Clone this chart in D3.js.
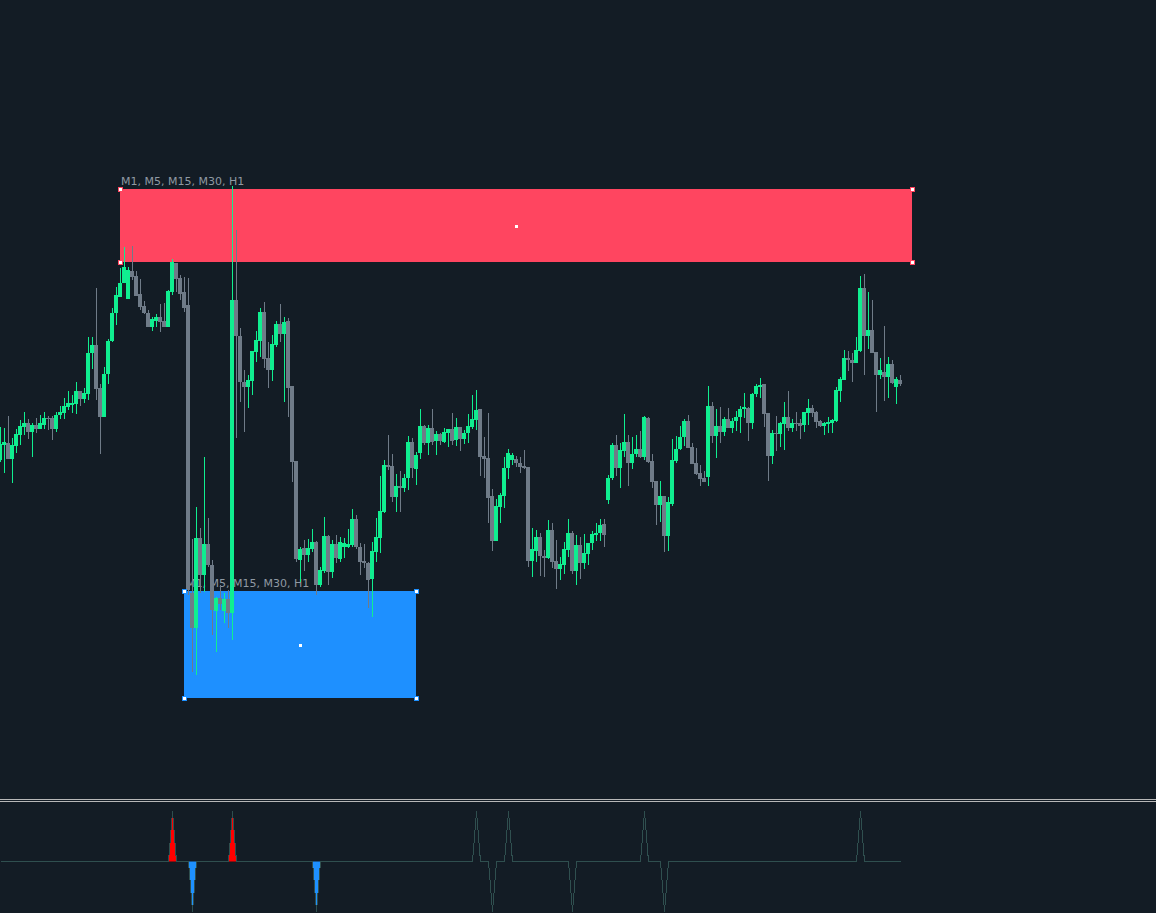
<!DOCTYPE html>
<html><head><meta charset="utf-8">
<script src="https://cdn.jsdelivr.net/npm/d3@7/dist/d3.min.js"></script>
<style>html,body{margin:0;padding:0;background:#131c25;overflow:hidden}</style>
</head><body><svg id="c" width="1156" height="913"></svg>
<script>
const opens = [540,555,557,541,554,565,573,577,568,575,
571,575,582,582,571,585,587,593,595,596,
609,601,606,647,655,612,583,626,659,687,
703,717,701,729,724,706,694,687,673,679,
683,679,673,708,737,722,708,695,407,372,
462,425,456,435,389,402,389,401,387,700,
664,618,613,619,648,659,688,642,630,655,
676,666,679,614,539,440,452,445,451,458,
415,429,464,428,456,441,453,453,455,481,
453,439,437,421,448,462,488,535,534,503,
514,512,522,558,531,547,574,557,572,559,
566,558,567,571,560,573,561,567,573,580,
591,544,542,504,459,493,504,532,540,541,
537,534,533,439,449,463,444,442,470,439,
431,435,450,467,429,455,437,446,457,465,
467,476,500,522,555,532,549,558,537,546,
551,543,582,539,519,495,504,464,496,539,
551,563,579,553,537,527,522,523,594,564,
574,568,581,572,579,583,591,592,577,606,
613,616,587,544,567,566,576,583,572,577,
577,575,587,592,588,579,574,576,577,579,
609,620,642,640,637,649,712,664,670,648,
625,628,623,636,613,620];
const highs = [573,572,584,562,571,580,588,581,577,582,
585,588,584,584,588,594,602,609,605,618,
609,612,663,663,712,616,633,661,692,713,
732,753,733,754,729,721,699,690,683,686,
696,697,710,741,737,725,723,722,461,493,
472,543,482,440,403,415,407,410,814,770,
672,630,625,649,669,692,698,658,665,679,
696,683,682,614,539,453,460,461,471,459,
433,483,465,460,465,463,462,471,491,485,
457,456,438,458,482,524,540,565,546,526,
529,526,564,562,548,591,575,575,591,569,
567,572,571,587,582,573,570,586,605,610,
591,563,587,511,501,507,543,551,547,544,
543,550,533,472,470,467,450,480,477,460,
443,458,481,469,465,463,466,457,469,477,
481,481,525,557,565,557,586,565,563,565,
569,584,583,546,519,519,504,503,561,564,
574,581,585,557,552,535,529,614,598,591,
593,583,592,582,589,594,607,593,607,616,
622,616,587,570,584,578,598,609,581,588,
581,588,601,595,589,580,578,583,581,613,
623,650,649,647,663,724,726,708,700,648,
642,674,643,640,623,625];
const lows = [538,527,541,517,547,555,565,561,543,567,
571,571,570,560,568,581,581,590,587,586,
594,597,600,631,600,546,583,616,658,675,
703,717,701,720,704,690,686,673,669,673,
668,673,673,705,708,700,688,405,328,325,
407,408,433,365,348,390,377,372,360,562,
598,568,592,605,638,643,632,612,619,653,
658,598,583,518,438,418,429,438,448,405,
413,427,415,422,437,438,442,452,453,451,
425,432,392,383,438,447,487,530,498,488,
488,508,510,522,515,541,555,545,555,545,
555,557,553,555,554,549,556,557,571,570,
524,522,477,449,459,477,492,521,535,533,
527,531,433,423,438,424,423,441,432,411,
420,426,443,426,415,421,431,435,450,459,
459,453,496,520,524,512,543,514,531,543,
542,540,537,512,475,478,448,449,494,537,
550,554,552,536,525,514,518,514,557,542,
557,564,572,567,569,567,582,559,571,603,
602,573,519,536,549,553,550,569,568,569,
561,568,575,583,572,573,565,567,567,578,
598,620,629,618,637,648,625,651,647,588,
621,599,602,616,596,614];
const closes = [556,558,541,555,566,574,577,568,575,571,
577,582,581,571,585,588,594,597,597,609,
601,607,647,655,611,583,626,659,687,705,
717,733,730,723,704,693,687,673,681,683,
678,673,709,738,721,706,692,410,372,462,
425,456,435,390,402,396,401,387,700,664,
618,613,620,649,660,688,641,630,656,676,
666,678,612,538,441,451,445,452,458,415,
430,464,428,456,442,458,457,456,481,453,
438,437,420,449,463,489,535,533,503,514,
512,522,558,532,545,574,557,572,558,566,
559,568,571,559,573,561,567,574,581,590,
543,541,502,459,494,505,532,547,545,537,
533,532,439,451,463,444,442,470,438,431,
436,451,467,429,455,437,447,457,466,467,
475,465,522,555,532,550,558,537,546,551,
543,583,538,518,495,504,464,498,540,551,
563,579,552,536,526,521,518,594,564,574,
568,581,572,579,583,591,593,577,606,614,
615,586,544,567,566,577,583,572,577,576,
574,588,592,587,578,574,577,578,580,610,
621,642,640,637,650,712,664,670,647,625,
630,623,636,617,621,616];

// zones (bar index from/to, price top/bottom)
const zoneFrom = [30, 46];
const zoneTo = [228, 104];
const zoneTop = [811, 409];
const zoneBottom = [738, 302];
const zoneLabel = ["M1, M5, M15, M30, H1", "M1, M5, M15, M30, H1"];

// indicator signals (bar indices)
const signalUp = [43, 58, 119, 127, 161, 215];
const signalDown = [48, 79, 123, 143, 166];
const signalUpStrong = [43, 58];
const signalDownStrong = [48, 79];

const W = 1156, H = 913;
const svg = d3.select("#c");
svg.append("rect").attr("width", W).attr("height", H).attr("fill", "#131c25");

const n = opens.length;
const x = d3.scaleLinear().domain([0, 225]).range([0, 900]);
const y = d3.scaleLinear().domain([1000, 87]).range([0, 913]);

const zoneFill = ["#ff4560", "#1e90ff"];
const zoneStroke = ["#ff4560", "#1e90ff"];

const gz = svg.append("g");
zoneFrom.forEach((f, k) => {
  gz.append("rect")
    .attr("x", x(f)).attr("y", y(zoneTop[k]))
    .attr("width", x(zoneTo[k]) - x(f))
    .attr("height", y(zoneBottom[k]) - y(zoneTop[k]))
    .attr("fill", zoneFill[k]);
  gz.append("text")
    .attr("x", x(f) + 1 + (k === 1 ? 1 : 0)).attr("y", y(zoneTop[k]) - 4.5)
    .attr("font-family", "DejaVu Sans").attr("font-size", 11)
    .attr("fill", "#8f99a3").text(zoneLabel[k]);
});

const green = "#10ee90", gray = "#6f7b88";
const gc = svg.append("g").attr("shape-rendering", "crispEdges");
d3.range(n).forEach(i => {
  const up = closes[i] >= opens[i];
  const col = up ? green : gray;
  gc.append("line")
    .attr("x1", x(i) + 0.5).attr("x2", x(i) + 0.5)
    .attr("y1", y(highs[i])).attr("y2", y(lows[i]))
    .attr("stroke", col).attr("stroke-width", 1);
  const yt = y(Math.max(opens[i], closes[i]));
  const yb = y(Math.min(opens[i], closes[i]));
  gc.append("rect")
    .attr("x", x(i) - 2).attr("width", 4)
    .attr("y", yt).attr("height", Math.max(1, yb - yt))
    .attr("fill", col);
});

// handles
const gh = svg.append("g").attr("shape-rendering", "crispEdges");
zoneFrom.forEach((f, k) => {
  const xs = [x(f), x(zoneTo[k])], ys = [y(zoneTop[k]), y(zoneBottom[k])];
  xs.forEach(xx => ys.forEach(yy => {
    gh.append("rect").attr("x", xx - 2).attr("y", yy - 2).attr("width", 4).attr("height", 4)
      .attr("fill", "#ffffff").attr("stroke", zoneStroke[k]).attr("stroke-width", 1);
  }));
  gh.append("rect").attr("x", (xs[0] + xs[1]) / 2 - 1).attr("y", (ys[0] + ys[1]) / 2 - 1)
    .attr("width", 3).attr("height", 3).attr("fill", "#ffffff");
});

// separator
svg.append("line").attr("x1", 0).attr("x2", W).attr("y1", 799.5).attr("y2", 799.5).attr("stroke", "#b8b8b8");
svg.append("line").attr("x1", 0).attr("x2", W).attr("y1", 801.5).attr("y2", 801.5).attr("stroke", "#b8b8b8");

// indicator
const sig = d3.range(n).map(i => signalUp.includes(i) ? 1 : (signalDown.includes(i) ? -1 : 0));
const py = d3.scaleLinear().domain([-1, 1]).range([911.5, 811.5]);
const area = d3.area().x(i => x(i) + 0.5).y0(py(0)).y1(i => py(sig[i]));
signalUpStrong.forEach(i => {
  svg.append("path").datum([i - 1, i, i + 1]).attr("d", area).attr("fill", "#ff0000");
});
signalDownStrong.forEach(i => {
  svg.append("path").datum([i - 1, i, i + 1]).attr("d", area).attr("fill", "#1e90ff");
});
const line = d3.line().x(i => x(i) + 0.5).y(i => py(sig[i]));
svg.append("path").datum(d3.range(n)).attr("d", line)
  .attr("fill", "none").attr("stroke", "#2f4f4f").attr("stroke-width", 1)
  .attr("shape-rendering", "crispEdges");
</script></body></html>
